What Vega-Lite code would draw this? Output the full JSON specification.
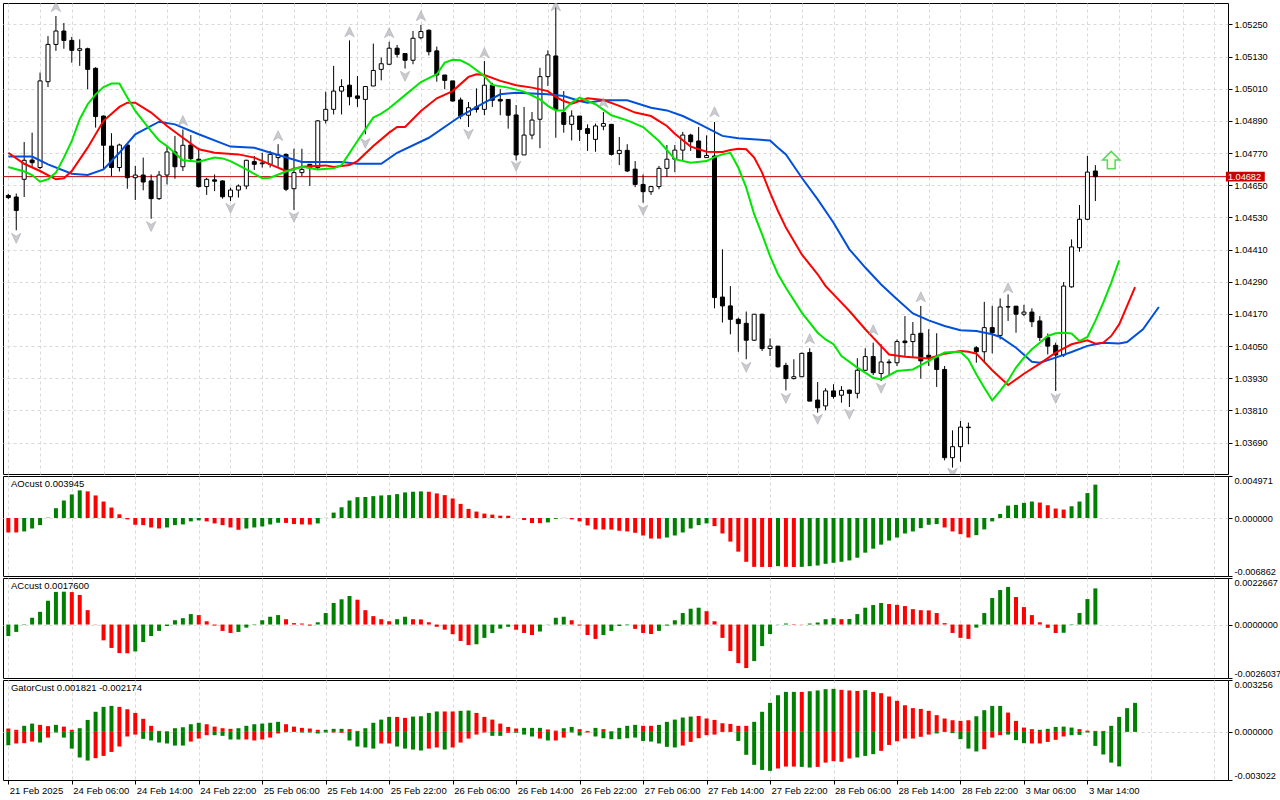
{
  "$schema": "https://vega.github.io/schema/vega-lite/v6.json",
  "padding": {"left": 2, "top": 2, "right": 0, "bottom": 0},
  "background": "#ffffff",
  "spacing": 0,
  "resolve": {"scale": {"color": "independent"}},
  "config": {
    "view": {"stroke": "#000000", "strokeWidth": 1},
    "font": "Liberation Sans",
    "axis": {"labelFont": "Liberation Sans", "labelFontSize": 9.2, "labelColor": "#000000", "tickColor": "#000000", "gridColor": "#d9d9d9", "gridDash": [3, 3], "domain": false, "title": null, "labelOverlap": false, "labelFlush": false, "labelSeparation": 0, "labelBound": false}
  },
  "datasets": {
    "candles": [
      {"i":0,"o":1.04612,"h":1.04618,"l":1.04598,"c":1.04604},
      {"i":1,"o":1.04606,"h":1.04619,"l":1.04482,"c":1.04556},
      {"i":2,"o":1.04672,"h":1.04811,"l":1.04606,"c":1.04743},
      {"i":3,"o":1.04744,"h":1.04846,"l":1.04716,"c":1.04734},
      {"i":4,"o":1.04716,"h":1.0507,"l":1.0471,"c":1.05039},
      {"i":5,"o":1.05036,"h":1.05206,"l":1.05016,"c":1.05175},
      {"i":6,"o":1.05175,"h":1.05281,"l":1.05151,"c":1.05225},
      {"i":7,"o":1.05225,"h":1.05255,"l":1.05159,"c":1.0519},
      {"i":8,"o":1.0519,"h":1.05203,"l":1.05107,"c":1.05153},
      {"i":9,"o":1.05153,"h":1.05194,"l":1.05095,"c":1.05159},
      {"i":10,"o":1.05159,"h":1.05163,"l":1.05008,"c":1.05082},
      {"i":11,"o":1.05086,"h":1.0509,"l":1.04865,"c":1.04906},
      {"i":12,"o":1.04908,"h":1.0491,"l":1.0471,"c":1.04799},
      {"i":13,"o":1.04796,"h":1.04844,"l":1.04684,"c":1.04716},
      {"i":14,"o":1.04716,"h":1.04805,"l":1.04701,"c":1.048},
      {"i":15,"o":1.048,"h":1.04803,"l":1.04637,"c":1.04678},
      {"i":16,"o":1.04678,"h":1.04722,"l":1.04595,"c":1.04688},
      {"i":17,"o":1.04688,"h":1.04753,"l":1.04631,"c":1.04662},
      {"i":18,"o":1.04666,"h":1.0469,"l":1.04525,"c":1.046},
      {"i":19,"o":1.046,"h":1.04703,"l":1.04595,"c":1.04688},
      {"i":20,"o":1.04688,"h":1.04794,"l":1.04653,"c":1.04774},
      {"i":21,"o":1.04774,"h":1.04834,"l":1.04674,"c":1.04719},
      {"i":22,"o":1.04719,"h":1.04858,"l":1.04703,"c":1.04799},
      {"i":23,"o":1.048,"h":1.04837,"l":1.0474,"c":1.04749},
      {"i":24,"o":1.04747,"h":1.0479,"l":1.04641,"c":1.04645},
      {"i":25,"o":1.04645,"h":1.04678,"l":1.04614,"c":1.04672},
      {"i":26,"o":1.0467,"h":1.0469,"l":1.04628,"c":1.04665},
      {"i":27,"o":1.04666,"h":1.04668,"l":1.046,"c":1.04607},
      {"i":28,"o":1.04607,"h":1.04641,"l":1.04591,"c":1.04632},
      {"i":29,"o":1.04632,"h":1.04653,"l":1.04604,"c":1.04647},
      {"i":30,"o":1.04647,"h":1.04745,"l":1.04635,"c":1.04743},
      {"i":31,"o":1.04738,"h":1.04759,"l":1.04707,"c":1.04728},
      {"i":32,"o":1.0473,"h":1.04771,"l":1.04716,"c":1.04733},
      {"i":33,"o":1.04728,"h":1.04778,"l":1.04716,"c":1.04765},
      {"i":34,"o":1.04753,"h":1.04803,"l":1.04719,"c":1.04763},
      {"i":35,"o":1.04765,"h":1.04768,"l":1.04628,"c":1.04635},
      {"i":36,"o":1.04637,"h":1.04786,"l":1.04558,"c":1.04697},
      {"i":37,"o":1.04697,"h":1.04786,"l":1.04684,"c":1.04709},
      {"i":38,"o":1.04728,"h":1.04728,"l":1.04647,"c":1.04716},
      {"i":39,"o":1.04716,"h":1.04893,"l":1.0471,"c":1.0489},
      {"i":40,"o":1.04892,"h":1.04999,"l":1.0488,"c":1.04933},
      {"i":41,"o":1.04933,"h":1.05095,"l":1.04914,"c":1.05001},
      {"i":42,"o":1.05001,"h":1.05045,"l":1.04914,"c":1.05018},
      {"i":43,"o":1.05023,"h":1.0519,"l":1.04948,"c":1.0498},
      {"i":44,"o":1.04983,"h":1.05057,"l":1.04942,"c":1.04974},
      {"i":45,"o":1.0497,"h":1.0502,"l":1.0484,"c":1.05018},
      {"i":46,"o":1.0502,"h":1.05178,"l":1.0502,"c":1.05078},
      {"i":47,"o":1.05082,"h":1.05126,"l":1.05041,"c":1.05103},
      {"i":48,"o":1.05101,"h":1.05185,"l":1.05101,"c":1.05161},
      {"i":49,"o":1.05161,"h":1.05173,"l":1.05126,"c":1.05138},
      {"i":50,"o":1.05141,"h":1.05141,"l":1.05085,"c":1.05116},
      {"i":51,"o":1.05116,"h":1.05225,"l":1.05101,"c":1.05198},
      {"i":52,"o":1.052,"h":1.05248,"l":1.05194,"c":1.05223},
      {"i":53,"o":1.05228,"h":1.05231,"l":1.05134,"c":1.05148},
      {"i":54,"o":1.05151,"h":1.05167,"l":1.05036,"c":1.05061},
      {"i":55,"o":1.05061,"h":1.05061,"l":1.05008,"c":1.05041},
      {"i":56,"o":1.05039,"h":1.05039,"l":1.04962,"c":1.04964},
      {"i":57,"o":1.04968,"h":1.04977,"l":1.04896,"c":1.04908},
      {"i":58,"o":1.04911,"h":1.0496,"l":1.04867,"c":1.04939},
      {"i":59,"o":1.04942,"h":1.05011,"l":1.04921,"c":1.04933},
      {"i":60,"o":1.04933,"h":1.05113,"l":1.04911,"c":1.05023},
      {"i":61,"o":1.05023,"h":1.05032,"l":1.04942,"c":1.04967},
      {"i":62,"o":1.0497,"h":1.05008,"l":1.04911,"c":1.04964},
      {"i":63,"o":1.0497,"h":1.0497,"l":1.04861,"c":1.04911},
      {"i":64,"o":1.04912,"h":1.04949,"l":1.04743,"c":1.04763},
      {"i":65,"o":1.04763,"h":1.04942,"l":1.04763,"c":1.04837},
      {"i":66,"o":1.04837,"h":1.04923,"l":1.04821,"c":1.04893},
      {"i":67,"o":1.04896,"h":1.05088,"l":1.04788,"c":1.05055},
      {"i":68,"o":1.05055,"h":1.05153,"l":1.0502,"c":1.05136},
      {"i":69,"o":1.05132,"h":1.05315,"l":1.04827,"c":1.04933},
      {"i":70,"o":1.04921,"h":1.05001,"l":1.04846,"c":1.04877},
      {"i":71,"o":1.04877,"h":1.04929,"l":1.04817,"c":1.04908},
      {"i":72,"o":1.04908,"h":1.04908,"l":1.04815,"c":1.04858},
      {"i":73,"o":1.04861,"h":1.04877,"l":1.04778,"c":1.04843},
      {"i":74,"o":1.04821,"h":1.0488,"l":1.04775,"c":1.04871},
      {"i":75,"o":1.0487,"h":1.04923,"l":1.04855,"c":1.0488},
      {"i":76,"o":1.04877,"h":1.04877,"l":1.04761,"c":1.04765},
      {"i":77,"o":1.04768,"h":1.0483,"l":1.04725,"c":1.0478},
      {"i":78,"o":1.0478,"h":1.04803,"l":1.04699,"c":1.04703},
      {"i":79,"o":1.0471,"h":1.0474,"l":1.04643,"c":1.04653},
      {"i":80,"o":1.04653,"h":1.0469,"l":1.04585,"c":1.04626},
      {"i":81,"o":1.04626,"h":1.04647,"l":1.04614,"c":1.04645},
      {"i":82,"o":1.04645,"h":1.04722,"l":1.04635,"c":1.04713},
      {"i":83,"o":1.04713,"h":1.048,"l":1.04681,"c":1.04747},
      {"i":84,"o":1.04747,"h":1.048,"l":1.04699,"c":1.04781},
      {"i":85,"o":1.04781,"h":1.04849,"l":1.04744,"c":1.04837},
      {"i":86,"o":1.04837,"h":1.04842,"l":1.04778,"c":1.04812},
      {"i":87,"o":1.04815,"h":1.04867,"l":1.04753,"c":1.04753},
      {"i":88,"o":1.04753,"h":1.04836,"l":1.04753,"c":1.04761},
      {"i":89,"o":1.04759,"h":1.04886,"l":1.04191,"c":1.04231},
      {"i":90,"o":1.04233,"h":1.04411,"l":1.04138,"c":1.042},
      {"i":91,"o":1.042,"h":1.04274,"l":1.04094,"c":1.0415},
      {"i":92,"o":1.0415,"h":1.04156,"l":1.04029,"c":1.04134},
      {"i":93,"o":1.04135,"h":1.04179,"l":1.04001,"c":1.04072},
      {"i":94,"o":1.04072,"h":1.04169,"l":1.04069,"c":1.04169},
      {"i":95,"o":1.04169,"h":1.04171,"l":1.04032,"c":1.04041},
      {"i":96,"o":1.04041,"h":1.04079,"l":1.04013,"c":1.0405},
      {"i":97,"o":1.0405,"h":1.0405,"l":1.0397,"c":1.03973},
      {"i":98,"o":1.03978,"h":1.03988,"l":1.03885,"c":1.03929},
      {"i":99,"o":1.03929,"h":1.04001,"l":1.03926,"c":1.03936},
      {"i":100,"o":1.03936,"h":1.04026,"l":1.03936,"c":1.04023},
      {"i":101,"o":1.04026,"h":1.04042,"l":1.03845,"c":1.03845},
      {"i":102,"o":1.03849,"h":1.03916,"l":1.03802,"c":1.0382},
      {"i":103,"o":1.03827,"h":1.03893,"l":1.03811,"c":1.03883},
      {"i":104,"o":1.03883,"h":1.03908,"l":1.03854,"c":1.03862},
      {"i":105,"o":1.03867,"h":1.03901,"l":1.03839,"c":1.03885},
      {"i":106,"o":1.03886,"h":1.03888,"l":1.03823,"c":1.03874},
      {"i":107,"o":1.03874,"h":1.04005,"l":1.03855,"c":1.0396},
      {"i":108,"o":1.0396,"h":1.04042,"l":1.03958,"c":1.04011},
      {"i":109,"o":1.04011,"h":1.04063,"l":1.03942,"c":1.03951},
      {"i":110,"o":1.03948,"h":1.04057,"l":1.0392,"c":1.03991},
      {"i":111,"o":1.03991,"h":1.04001,"l":1.03939,"c":1.03988},
      {"i":112,"o":1.03988,"h":1.04075,"l":1.03976,"c":1.04067},
      {"i":113,"o":1.04069,"h":1.04162,"l":1.04013,"c":1.04063},
      {"i":114,"o":1.04067,"h":1.0414,"l":1.0401,"c":1.04094},
      {"i":115,"o":1.04098,"h":1.042,"l":1.03929,"c":1.03995},
      {"i":116,"o":1.04016,"h":1.04113,"l":1.03976,"c":1.04007},
      {"i":117,"o":1.04007,"h":1.04098,"l":1.03898,"c":1.03963},
      {"i":118,"o":1.03963,"h":1.03976,"l":1.03624,"c":1.03634},
      {"i":119,"o":1.03634,"h":1.03736,"l":1.03597,"c":1.03675},
      {"i":120,"o":1.03675,"h":1.03771,"l":1.03619,"c":1.03748},
      {"i":121,"o":1.03748,"h":1.03765,"l":1.03684,"c":1.03746},
      {"i":122,"o":1.04044,"h":1.0405,"l":1.03988,"c":1.04029},
      {"i":123,"o":1.04029,"h":1.04215,"l":1.03991,"c":1.04119},
      {"i":124,"o":1.04119,"h":1.042,"l":1.04023,"c":1.041},
      {"i":125,"o":1.0409,"h":1.04228,"l":1.04075,"c":1.04196},
      {"i":126,"o":1.04196,"h":1.04243,"l":1.04144,"c":1.04197},
      {"i":127,"o":1.04199,"h":1.04199,"l":1.041,"c":1.04169},
      {"i":128,"o":1.04169,"h":1.04204,"l":1.04162,"c":1.04177},
      {"i":129,"o":1.04177,"h":1.04191,"l":1.04121,"c":1.04141},
      {"i":130,"o":1.04144,"h":1.04162,"l":1.04069,"c":1.04082},
      {"i":131,"o":1.04082,"h":1.04097,"l":1.04019,"c":1.0405},
      {"i":132,"o":1.04053,"h":1.04063,"l":1.03883,"c":1.04017},
      {"i":133,"o":1.04017,"h":1.04289,"l":1.0401,"c":1.04274},
      {"i":134,"o":1.04271,"h":1.04448,"l":1.04268,"c":1.0442},
      {"i":135,"o":1.04417,"h":1.04576,"l":1.04402,"c":1.04523},
      {"i":136,"o":1.04523,"h":1.04759,"l":1.0452,"c":1.04699},
      {"i":137,"o":1.04703,"h":1.04725,"l":1.04591,"c":1.04682}
    ],
    "alligator": [
      {"s":"jaw","i":0,"p":1.04757},{"s":"jaw","i":3,"p":1.04757},{"s":"jaw","i":5,"p":1.04728},{"s":"jaw","i":8,"p":1.04693},{"s":"jaw","i":10,"p":1.04688},{"s":"jaw","i":12,"p":1.04709},{"s":"jaw","i":14,"p":1.04771},{"s":"jaw","i":16,"p":1.0484},{"s":"jaw","i":19,"p":1.04887},{"s":"jaw","i":21,"p":1.04877},{"s":"jaw","i":24,"p":1.0484},{"s":"jaw","i":28,"p":1.04794},{"s":"jaw","i":31,"p":1.0479},{"s":"jaw","i":34,"p":1.04763},{"s":"jaw","i":37,"p":1.04737},{"s":"jaw","i":42,"p":1.04737},{"s":"jaw","i":44,"p":1.0473},{"s":"jaw","i":47,"p":1.0473},{"s":"jaw","i":49,"p":1.04771},{"s":"jaw","i":53,"p":1.04827},{"s":"jaw","i":57,"p":1.04908},{"s":"jaw","i":60,"p":1.04958},{"s":"jaw","i":62,"p":1.04989},{"s":"jaw","i":64,"p":1.04995},{"s":"jaw","i":68,"p":1.04989},{"s":"jaw","i":70,"p":1.04983},{"s":"jaw","i":72,"p":1.04964},{"s":"jaw","i":73,"p":1.04958},{"s":"jaw","i":75,"p":1.04967},{"s":"jaw","i":78,"p":1.04967},{"s":"jaw","i":81,"p":1.04939},{"s":"jaw","i":83,"p":1.04929},{"s":"jaw","i":85,"p":1.04908},{"s":"jaw","i":87,"p":1.0488},{"s":"jaw","i":90,"p":1.04834},{"s":"jaw","i":92,"p":1.04825},{"s":"jaw","i":96,"p":1.04817},{"s":"jaw","i":97,"p":1.0479},{"s":"jaw","i":98,"p":1.04765},{"s":"jaw","i":100,"p":1.04678},{"s":"jaw","i":102,"p":1.04597},{"s":"jaw","i":104,"p":1.0451},{"s":"jaw","i":106,"p":1.04411},{"s":"jaw","i":108,"p":1.04343},{"s":"jaw","i":110,"p":1.0428},{"s":"jaw","i":112,"p":1.04225},{"s":"jaw","i":114,"p":1.04172},{"s":"jaw","i":116,"p":1.04146},{"s":"jaw","i":118,"p":1.04125},{"s":"jaw","i":120,"p":1.04109},{"s":"jaw","i":122,"p":1.04106},{"s":"jaw","i":124,"p":1.04094},{"s":"jaw","i":125,"p":1.04084},{"s":"jaw","i":127,"p":1.04044},{"s":"jaw","i":129,"p":1.03992},{"s":"jaw","i":130,"p":1.03988},{"s":"jaw","i":132,"p":1.04007},{"s":"jaw","i":134,"p":1.04028},{"s":"jaw","i":136,"p":1.04051},{"s":"jaw","i":138,"p":1.04063},{"s":"jaw","i":140,"p":1.0406},{"s":"jaw","i":141,"p":1.04065},{"s":"jaw","i":143,"p":1.04113},{"s":"jaw","i":145,"p":1.04196},
      {"s":"teeth","i":0,"p":1.04771},{"s":"teeth","i":2,"p":1.0473},{"s":"teeth","i":4,"p":1.04703},{"s":"teeth","i":6,"p":1.04672},{"s":"teeth","i":7,"p":1.04676},{"s":"teeth","i":8,"p":1.04703},{"s":"teeth","i":10,"p":1.0479},{"s":"teeth","i":12,"p":1.0489},{"s":"teeth","i":14,"p":1.04942},{"s":"teeth","i":15,"p":1.04958},{"s":"teeth","i":16,"p":1.04958},{"s":"teeth","i":18,"p":1.04921},{"s":"teeth","i":20,"p":1.04871},{"s":"teeth","i":22,"p":1.04827},{"s":"teeth","i":24,"p":1.04784},{"s":"teeth","i":26,"p":1.04771},{"s":"teeth","i":29,"p":1.04765},{"s":"teeth","i":31,"p":1.04753},{"s":"teeth","i":33,"p":1.04728},{"s":"teeth","i":35,"p":1.04703},{"s":"teeth","i":37,"p":1.04719},{"s":"teeth","i":40,"p":1.04724},{"s":"teeth","i":41,"p":1.04718},{"s":"teeth","i":43,"p":1.04725},{"s":"teeth","i":44,"p":1.0474},{"s":"teeth","i":46,"p":1.04796},{"s":"teeth","i":48,"p":1.04846},{"s":"teeth","i":49,"p":1.04867},{"s":"teeth","i":50,"p":1.04867},{"s":"teeth","i":52,"p":1.04927},{"s":"teeth","i":54,"p":1.04974},{"s":"teeth","i":56,"p":1.05001},{"s":"teeth","i":58,"p":1.05054},{"s":"teeth","i":59,"p":1.05064},{"s":"teeth","i":60,"p":1.05061},{"s":"teeth","i":62,"p":1.05039},{"s":"teeth","i":64,"p":1.05023},{"s":"teeth","i":66,"p":1.05014},{"s":"teeth","i":68,"p":1.05001},{"s":"teeth","i":69,"p":1.04979},{"s":"teeth","i":70,"p":1.04964},{"s":"teeth","i":71,"p":1.04954},{"s":"teeth","i":72,"p":1.04964},{"s":"teeth","i":73,"p":1.04974},{"s":"teeth","i":75,"p":1.04968},{"s":"teeth","i":77,"p":1.04946},{"s":"teeth","i":79,"p":1.04921},{"s":"teeth","i":81,"p":1.04908},{"s":"teeth","i":83,"p":1.04871},{"s":"teeth","i":84,"p":1.04842},{"s":"teeth","i":86,"p":1.04794},{"s":"teeth","i":88,"p":1.04775},{"s":"teeth","i":90,"p":1.04774},{"s":"teeth","i":91,"p":1.04781},{"s":"teeth","i":92,"p":1.04786},{"s":"teeth","i":93,"p":1.04784},{"s":"teeth","i":94,"p":1.04753},{"s":"teeth","i":95,"p":1.04697},{"s":"teeth","i":96,"p":1.04622},{"s":"teeth","i":97,"p":1.04554},{"s":"teeth","i":98,"p":1.04492},{"s":"teeth","i":99,"p":1.04442},{"s":"teeth","i":100,"p":1.04392},{"s":"teeth","i":101,"p":1.04355},{"s":"teeth","i":102,"p":1.04318},{"s":"teeth","i":103,"p":1.04274},{"s":"teeth","i":104,"p":1.04243},{"s":"teeth","i":106,"p":1.04181},{"s":"teeth","i":108,"p":1.04113},{"s":"teeth","i":110,"p":1.0405},{"s":"teeth","i":111,"p":1.04019},{"s":"teeth","i":113,"p":1.0401},{"s":"teeth","i":116,"p":1.04004},{"s":"teeth","i":118,"p":1.04022},{"s":"teeth","i":120,"p":1.04032},{"s":"teeth","i":121,"p":1.04029},{"s":"teeth","i":122,"p":1.04022},{"s":"teeth","i":124,"p":1.0396},{"s":"teeth","i":126,"p":1.03905},{"s":"teeth","i":128,"p":1.03947},{"s":"teeth","i":130,"p":1.03985},{"s":"teeth","i":132,"p":1.04026},{"s":"teeth","i":134,"p":1.04057},{"s":"teeth","i":136,"p":1.04072},{"s":"teeth","i":137,"p":1.04059},{"s":"teeth","i":138,"p":1.04063},{"s":"teeth","i":139,"p":1.04088},{"s":"teeth","i":140,"p":1.04131},{"s":"teeth","i":141,"p":1.042},{"s":"teeth","i":142,"p":1.0427},
      {"s":"lips","i":0,"p":1.04718},{"s":"lips","i":2,"p":1.04701},{"s":"lips","i":3,"p":1.04688},{"s":"lips","i":4,"p":1.04663},{"s":"lips","i":5,"p":1.04672},{"s":"lips","i":6,"p":1.04697},{"s":"lips","i":7,"p":1.04753},{"s":"lips","i":8,"p":1.04815},{"s":"lips","i":9,"p":1.04896},{"s":"lips","i":10,"p":1.04952},{"s":"lips","i":11,"p":1.04989},{"s":"lips","i":12,"p":1.05016},{"s":"lips","i":13,"p":1.05029},{"s":"lips","i":14,"p":1.05029},{"s":"lips","i":15,"p":1.04977},{"s":"lips","i":16,"p":1.04927},{"s":"lips","i":18,"p":1.04852},{"s":"lips","i":19,"p":1.04817},{"s":"lips","i":20,"p":1.04796},{"s":"lips","i":22,"p":1.04743},{"s":"lips","i":24,"p":1.04738},{"s":"lips","i":26,"p":1.04753},{"s":"lips","i":27,"p":1.0475},{"s":"lips","i":28,"p":1.0474},{"s":"lips","i":30,"p":1.04709},{"s":"lips","i":32,"p":1.04676},{"s":"lips","i":33,"p":1.04678},{"s":"lips","i":35,"p":1.04701},{"s":"lips","i":37,"p":1.04719},{"s":"lips","i":39,"p":1.04709},{"s":"lips","i":41,"p":1.04713},{"s":"lips","i":42,"p":1.04725},{"s":"lips","i":44,"p":1.04815},{"s":"lips","i":46,"p":1.04902},{"s":"lips","i":47,"p":1.04917},{"s":"lips","i":48,"p":1.04937},{"s":"lips","i":50,"p":1.04986},{"s":"lips","i":52,"p":1.05035},{"s":"lips","i":54,"p":1.05064},{"s":"lips","i":55,"p":1.05107},{"s":"lips","i":56,"p":1.05118},{"s":"lips","i":57,"p":1.05116},{"s":"lips","i":58,"p":1.05101},{"s":"lips","i":60,"p":1.05057},{"s":"lips","i":61,"p":1.05024},{"s":"lips","i":63,"p":1.05014},{"s":"lips","i":65,"p":1.04999},{"s":"lips","i":67,"p":1.0497},{"s":"lips","i":68,"p":1.04946},{"s":"lips","i":69,"p":1.04929},{"s":"lips","i":70,"p":1.04929},{"s":"lips","i":71,"p":1.04958},{"s":"lips","i":72,"p":1.04977},{"s":"lips","i":74,"p":1.04952},{"s":"lips","i":76,"p":1.04911},{"s":"lips","i":78,"p":1.04892},{"s":"lips","i":80,"p":1.04867},{"s":"lips","i":82,"p":1.04815},{"s":"lips","i":84,"p":1.04747},{"s":"lips","i":86,"p":1.04734},{"s":"lips","i":88,"p":1.0474},{"s":"lips","i":89,"p":1.04755},{"s":"lips","i":90,"p":1.04765},{"s":"lips","i":91,"p":1.04771},{"s":"lips","i":92,"p":1.04716},{"s":"lips","i":93,"p":1.04641},{"s":"lips","i":94,"p":1.04542},{"s":"lips","i":95,"p":1.04467},{"s":"lips","i":96,"p":1.04386},{"s":"lips","i":97,"p":1.04318},{"s":"lips","i":98,"p":1.04268},{"s":"lips","i":100,"p":1.04175},{"s":"lips","i":102,"p":1.041},{"s":"lips","i":103,"p":1.04075},{"s":"lips","i":104,"p":1.04057},{"s":"lips","i":105,"p":1.04013},{"s":"lips","i":107,"p":1.0397},{"s":"lips","i":109,"p":1.03932},{"s":"lips","i":110,"p":1.03926},{"s":"lips","i":112,"p":1.03957},{"s":"lips","i":114,"p":1.03963},{"s":"lips","i":116,"p":1.03995},{"s":"lips","i":118,"p":1.04026},{"s":"lips","i":120,"p":1.04029},{"s":"lips","i":121,"p":1.04001},{"s":"lips","i":122,"p":1.03945},{"s":"lips","i":123,"p":1.03895},{"s":"lips","i":124,"p":1.03848},{"s":"lips","i":125,"p":1.03883},{"s":"lips","i":126,"p":1.03922},{"s":"lips","i":127,"p":1.0397},{"s":"lips","i":128,"p":1.04007},{"s":"lips","i":129,"p":1.04038},{"s":"lips","i":130,"p":1.04063},{"s":"lips","i":131,"p":1.04088},{"s":"lips","i":132,"p":1.04098},{"s":"lips","i":133,"p":1.041},{"s":"lips","i":134,"p":1.04097},{"s":"lips","i":135,"p":1.04069},{"s":"lips","i":136,"p":1.04084},{"s":"lips","i":137,"p":1.04144},{"s":"lips","i":138,"p":1.04212},{"s":"lips","i":139,"p":1.04287},{"s":"lips","i":140,"p":1.0437}
    ],
    "fractals": [
      {"i":6,"p":1.05315,"t":"up"},{"i":22,"p":1.0489,"t":"up"},{"i":34,"p":1.04834,"t":"up"},{"i":43,"p":1.05221,"t":"up"},{"i":48,"p":1.05218,"t":"up"},{"i":52,"p":1.05281,"t":"up"},{"i":60,"p":1.05143,"t":"up"},{"i":69,"p":1.05318,"t":"up"},{"i":75,"p":1.04957,"t":"up"},{"i":89,"p":1.04923,"t":"up"},{"i":101,"p":1.04077,"t":"up"},{"i":109,"p":1.0411,"t":"up"},{"i":115,"p":1.04233,"t":"up"},{"i":126,"p":1.04267,"t":"up"},
      {"i":1,"p":1.04453,"t":"down"},{"i":18,"p":1.04497,"t":"down"},{"i":28,"p":1.04565,"t":"down"},{"i":36,"p":1.04532,"t":"down"},{"i":45,"p":1.04807,"t":"down"},{"i":50,"p":1.05057,"t":"down"},{"i":58,"p":1.04841,"t":"down"},{"i":64,"p":1.04722,"t":"down"},{"i":80,"p":1.04558,"t":"down"},{"i":93,"p":1.03972,"t":"down"},{"i":98,"p":1.03856,"t":"down"},{"i":102,"p":1.03778,"t":"down"},{"i":106,"p":1.03797,"t":"down"},{"i":110,"p":1.03894,"t":"down"},{"i":119,"p":1.03577,"t":"down"},{"i":132,"p":1.03856,"t":"down"}
    ],
    "ao": [
      {"i":0,"v":-0.00171,"d":"d"},{"i":1,"v":-0.00171,"d":"d"},{"i":2,"v":-0.00159,"d":"u"},{"i":3,"v":-0.00124,"d":"u"},{"i":4,"v":-0.00084,"d":"u"},{"i":5,"v":0.00004,"d":"u"},{"i":6,"v":0.00116,"d":"u"},{"i":7,"v":0.00207,"d":"u"},{"i":8,"v":0.00279,"d":"u"},{"i":9,"v":0.00327,"d":"u"},
      {"i":10,"v":0.00315,"d":"d"},{"i":11,"v":0.00267,"d":"d"},{"i":12,"v":0.00195,"d":"d"},{"i":13,"v":0.00124,"d":"d"},{"i":14,"v":0.00044,"d":"d"},{"i":15,"v":-0.00016,"d":"d"},{"i":16,"v":-0.0008,"d":"d"},{"i":17,"v":-0.00084,"d":"d"},{"i":18,"v":-0.00112,"d":"d"},{"i":19,"v":-0.00124,"d":"d"},
      {"i":20,"v":-0.00112,"d":"u"},{"i":21,"v":-0.00084,"d":"u"},{"i":22,"v":-0.00076,"d":"u"},{"i":23,"v":-0.0004,"d":"u"},{"i":24,"v":-0.00028,"d":"u"},{"i":25,"v":-0.0004,"d":"d"},{"i":26,"v":-0.00064,"d":"d"},{"i":27,"v":-0.00084,"d":"d"},{"i":28,"v":-0.00112,"d":"d"},{"i":29,"v":-0.00139,"d":"d"},
      {"i":30,"v":-0.00124,"d":"u"},{"i":31,"v":-0.00112,"d":"u"},{"i":32,"v":-0.001,"d":"u"},{"i":33,"v":-0.00076,"d":"u"},{"i":34,"v":-0.00056,"d":"u"},{"i":35,"v":-0.00058,"d":"d"},{"i":36,"v":-0.00072,"d":"d"},{"i":37,"v":-0.00076,"d":"d"},{"i":38,"v":-0.00078,"d":"d"},{"i":39,"v":-0.00064,"d":"u"},
      {"i":40,"v":0.00002,"d":"u"},{"i":41,"v":0.00064,"d":"u"},{"i":42,"v":0.00127,"d":"u"},{"i":43,"v":0.00207,"d":"u"},{"i":44,"v":0.00247,"d":"u"},{"i":45,"v":0.00249,"d":"u"},{"i":46,"v":0.00259,"d":"u"},{"i":47,"v":0.00267,"d":"u"},{"i":48,"v":0.00271,"d":"u"},{"i":49,"v":0.00283,"d":"u"},
      {"i":50,"v":0.00303,"d":"u"},{"i":51,"v":0.00311,"d":"u"},{"i":52,"v":0.00315,"d":"u"},{"i":53,"v":0.00311,"d":"d"},{"i":54,"v":0.00291,"d":"d"},{"i":55,"v":0.00271,"d":"d"},{"i":56,"v":0.00231,"d":"d"},{"i":57,"v":0.00167,"d":"d"},{"i":58,"v":0.00108,"d":"d"},{"i":59,"v":0.00076,"d":"d"},
      {"i":60,"v":0.00052,"d":"d"},{"i":61,"v":0.0004,"d":"d"},{"i":62,"v":0.00028,"d":"d"},{"i":63,"v":0.00027,"d":"d"},{"i":64,"v":0.00001,"d":"d"},{"i":65,"v":-0.00024,"d":"d"},{"i":66,"v":-0.0006,"d":"d"},{"i":67,"v":-0.00061,"d":"d"},{"i":68,"v":-0.00052,"d":"u"},{"i":69,"v":-0.0001,"d":"u"},
      {"i":70,"v":0.00002,"d":"u"},{"i":71,"v":-0.00016,"d":"d"},{"i":72,"v":-0.0004,"d":"d"},{"i":73,"v":-0.00088,"d":"d"},{"i":74,"v":-0.00135,"d":"d"},{"i":75,"v":-0.00136,"d":"d"},{"i":76,"v":-0.00137,"d":"d"},{"i":77,"v":-0.00151,"d":"d"},{"i":78,"v":-0.00159,"d":"d"},{"i":79,"v":-0.00175,"d":"d"},
      {"i":80,"v":-0.00207,"d":"d"},{"i":81,"v":-0.00243,"d":"d"},{"i":82,"v":-0.00244,"d":"d"},{"i":83,"v":-0.00231,"d":"u"},{"i":84,"v":-0.00207,"d":"u"},{"i":85,"v":-0.00171,"d":"u"},{"i":86,"v":-0.00124,"d":"u"},{"i":87,"v":-0.00084,"d":"u"},{"i":88,"v":-0.00064,"d":"u"},{"i":89,"v":-0.00096,"d":"d"},
      {"i":90,"v":-0.00183,"d":"d"},{"i":91,"v":-0.00279,"d":"d"},{"i":92,"v":-0.00398,"d":"d"},{"i":93,"v":-0.00518,"d":"d"},{"i":94,"v":-0.00578,"d":"d"},{"i":95,"v":-0.00579,"d":"d"},{"i":96,"v":-0.0058,"d":"d"},{"i":97,"v":-0.0057,"d":"u"},{"i":98,"v":-0.00578,"d":"d"},{"i":99,"v":-0.0058,"d":"d"},
      {"i":100,"v":-0.00578,"d":"u"},{"i":101,"v":-0.0057,"d":"u"},{"i":102,"v":-0.00562,"d":"u"},{"i":103,"v":-0.00542,"d":"u"},{"i":104,"v":-0.0053,"d":"u"},{"i":105,"v":-0.00518,"d":"u"},{"i":106,"v":-0.00502,"d":"u"},{"i":107,"v":-0.0047,"d":"u"},{"i":108,"v":-0.0041,"d":"u"},{"i":109,"v":-0.00363,"d":"u"},
      {"i":110,"v":-0.00315,"d":"u"},{"i":111,"v":-0.00267,"d":"u"},{"i":112,"v":-0.00231,"d":"u"},{"i":113,"v":-0.00183,"d":"u"},{"i":114,"v":-0.00159,"d":"u"},{"i":115,"v":-0.0012,"d":"u"},{"i":116,"v":-0.0008,"d":"u"},{"i":117,"v":-0.00072,"d":"u"},{"i":118,"v":-0.00112,"d":"d"},{"i":119,"v":-0.00159,"d":"d"},
      {"i":120,"v":-0.00191,"d":"d"},{"i":121,"v":-0.00231,"d":"d"},{"i":122,"v":-0.00203,"d":"u"},{"i":123,"v":-0.00135,"d":"u"},{"i":124,"v":-0.0004,"d":"u"},{"i":125,"v":0.00048,"d":"u"},{"i":126,"v":0.00147,"d":"u"},{"i":127,"v":0.00155,"d":"u"},{"i":128,"v":0.00179,"d":"u"},{"i":129,"v":0.00195,"d":"u"},
      {"i":130,"v":0.00183,"d":"d"},{"i":131,"v":0.00151,"d":"d"},{"i":132,"v":0.00112,"d":"d"},{"i":133,"v":0.001,"d":"d"},{"i":134,"v":0.00139,"d":"u"},{"i":135,"v":0.00195,"d":"u"},{"i":136,"v":0.00295,"d":"u"},{"i":137,"v":0.00395,"d":"u"}
    ],
    "ac": [
      {"i":0,"v":-0.00056,"d":"u"},{"i":1,"v":-0.00036,"d":"u"},{"i":2,"v":0.00002,"d":"u"},{"i":3,"v":0.00033,"d":"u"},{"i":4,"v":0.00062,"d":"u"},{"i":5,"v":0.00116,"d":"u"},{"i":6,"v":0.00159,"d":"u"},{"i":7,"v":0.0016,"d":"u"},{"i":8,"v":0.00158,"d":"d"},{"i":9,"v":0.00144,"d":"d"},
      {"i":10,"v":0.0007,"d":"d"},{"i":11,"v":0.00001,"d":"d"},{"i":12,"v":-0.00077,"d":"d"},{"i":13,"v":-0.00114,"d":"d"},{"i":14,"v":-0.00139,"d":"d"},{"i":15,"v":-0.0014,"d":"d"},{"i":16,"v":-0.00131,"d":"u"},{"i":17,"v":-0.00085,"d":"u"},{"i":18,"v":-0.00056,"d":"u"},{"i":19,"v":-0.00031,"d":"u"},
      {"i":20,"v":-0.00007,"d":"u"},{"i":21,"v":0.00021,"d":"u"},{"i":22,"v":0.00031,"d":"u"},{"i":23,"v":0.00051,"d":"u"},{"i":24,"v":0.00046,"d":"d"},{"i":25,"v":0.00016,"d":"d"},{"i":26,"v":-0.00005,"d":"d"},{"i":27,"v":-0.00031,"d":"d"},{"i":28,"v":-0.00041,"d":"d"},{"i":29,"v":-0.00036,"d":"u"},
      {"i":30,"v":-0.00015,"d":"u"},{"i":31,"v":0.00002,"d":"u"},{"i":32,"v":0.00021,"d":"u"},{"i":33,"v":0.00038,"d":"u"},{"i":34,"v":0.00046,"d":"u"},{"i":35,"v":0.00026,"d":"d"},{"i":36,"v":0.00007,"d":"d"},{"i":37,"v":0.00005,"d":"d"},{"i":38,"v":-0.00005,"d":"d"},{"i":39,"v":0.00011,"d":"u"},
      {"i":40,"v":0.00056,"d":"u"},{"i":41,"v":0.00105,"d":"u"},{"i":42,"v":0.00123,"d":"u"},{"i":43,"v":0.00139,"d":"u"},{"i":44,"v":0.00121,"d":"d"},{"i":45,"v":0.0007,"d":"d"},{"i":46,"v":0.00041,"d":"d"},{"i":47,"v":0.00026,"d":"d"},{"i":48,"v":0.00016,"d":"d"},{"i":49,"v":0.00026,"d":"u"},
      {"i":50,"v":0.00038,"d":"u"},{"i":51,"v":0.00026,"d":"d"},{"i":52,"v":0.00025,"d":"d"},{"i":53,"v":0.00011,"d":"d"},{"i":54,"v":-0.00011,"d":"d"},{"i":55,"v":-0.00025,"d":"d"},{"i":56,"v":-0.00047,"d":"d"},{"i":57,"v":-0.0008,"d":"d"},{"i":58,"v":-0.001,"d":"d"},{"i":59,"v":-0.00096,"d":"u"},
      {"i":60,"v":-0.00065,"d":"u"},{"i":61,"v":-0.00041,"d":"u"},{"i":62,"v":-0.0002,"d":"u"},{"i":63,"v":-0.00011,"d":"u"},{"i":64,"v":-0.00025,"d":"d"},{"i":65,"v":-0.00041,"d":"d"},{"i":66,"v":-0.00051,"d":"d"},{"i":67,"v":-0.00034,"d":"u"},{"i":68,"v":-0.00001,"d":"u"},{"i":69,"v":0.00033,"d":"u"},
      {"i":70,"v":0.00038,"d":"u"},{"i":71,"v":0.00021,"d":"d"},{"i":72,"v":-0.00005,"d":"d"},{"i":73,"v":-0.00051,"d":"d"},{"i":74,"v":-0.0007,"d":"d"},{"i":75,"v":-0.00051,"d":"u"},{"i":76,"v":-0.00031,"d":"u"},{"i":77,"v":-0.00007,"d":"u"},{"i":78,"v":-0.00003,"d":"u"},{"i":79,"v":-0.00021,"d":"d"},
      {"i":80,"v":-0.00041,"d":"d"},{"i":81,"v":-0.00046,"d":"d"},{"i":82,"v":-0.00031,"d":"u"},{"i":83,"v":-0.00005,"d":"u"},{"i":84,"v":0.00021,"d":"u"},{"i":85,"v":0.00056,"d":"u"},{"i":86,"v":0.00077,"d":"u"},{"i":87,"v":0.00082,"d":"u"},{"i":88,"v":0.00065,"d":"d"},{"i":89,"v":0.00016,"d":"d"},
      {"i":90,"v":-0.00065,"d":"d"},{"i":91,"v":-0.00129,"d":"d"},{"i":92,"v":-0.00188,"d":"d"},{"i":93,"v":-0.00212,"d":"d"},{"i":94,"v":-0.00178,"d":"u"},{"i":95,"v":-0.00105,"d":"u"},{"i":96,"v":-0.00046,"d":"u"},{"i":97,"v":0.00001,"d":"u"},{"i":98,"v":0.00005,"d":"u"},{"i":99,"v":0.00002,"d":"d"},
      {"i":100,"v":0.00001,"d":"d"},{"i":101,"v":0.00005,"d":"u"},{"i":102,"v":0.0001,"d":"u"},{"i":103,"v":0.00026,"d":"u"},{"i":104,"v":0.00031,"d":"u"},{"i":105,"v":0.00026,"d":"d"},{"i":106,"v":0.00027,"d":"u"},{"i":107,"v":0.00051,"d":"u"},{"i":108,"v":0.00082,"d":"u"},{"i":109,"v":0.00095,"d":"u"},
      {"i":110,"v":0.00105,"d":"u"},{"i":111,"v":0.001,"d":"d"},{"i":112,"v":0.00096,"d":"d"},{"i":113,"v":0.0009,"d":"d"},{"i":114,"v":0.00075,"d":"d"},{"i":115,"v":0.0007,"d":"d"},{"i":116,"v":0.00069,"d":"d"},{"i":117,"v":0.00056,"d":"d"},{"i":118,"v":0.00007,"d":"d"},{"i":119,"v":-0.00041,"d":"d"},
      {"i":120,"v":-0.00065,"d":"d"},{"i":121,"v":-0.0007,"d":"d"},{"i":122,"v":-0.00015,"d":"u"},{"i":123,"v":0.00056,"d":"u"},{"i":124,"v":0.00129,"d":"u"},{"i":125,"v":0.00168,"d":"u"},{"i":126,"v":0.00183,"d":"u"},{"i":127,"v":0.00134,"d":"d"},{"i":128,"v":0.00085,"d":"d"},{"i":129,"v":0.00046,"d":"d"},
      {"i":130,"v":0.00011,"d":"d"},{"i":131,"v":-0.00016,"d":"d"},{"i":132,"v":-0.00041,"d":"d"},{"i":133,"v":-0.0004,"d":"u"},{"i":134,"v":0.00002,"d":"u"},{"i":135,"v":0.00056,"d":"u"},{"i":136,"v":0.00124,"d":"u"},{"i":137,"v":0.00176,"d":"u"}
    ],
    "gator": [
      {"i":0,"up":0.00021,"uc":"d","dn":-0.00084,"dc":"u"},{"i":1,"up":0.00013,"uc":"d","dn":-0.00073,"dc":"d"},{"i":2,"up":0.00038,"uc":"u","dn":-0.00071,"dc":"d"},{"i":3,"up":0.00052,"uc":"u","dn":-0.00061,"dc":"d"},{"i":4,"up":0.00044,"uc":"d","dn":-0.00067,"dc":"u"},{"i":5,"up":0.00036,"uc":"d","dn":-0.00036,"dc":"d"},{"i":6,"up":0.00044,"uc":"u","dn":-0.00004,"dc":"u"},{"i":7,"up":0.00033,"uc":"d","dn":-0.00036,"dc":"u"},{"i":8,"up":0.00013,"uc":"d","dn":-0.00105,"dc":"u"},{"i":9,"up":0.00023,"uc":"u","dn":-0.00161,"dc":"u"},
      {"i":10,"up":0.00075,"uc":"u","dn":-0.0018,"dc":"u"},{"i":11,"up":0.00126,"uc":"u","dn":-0.00165,"dc":"d"},{"i":12,"up":0.00157,"uc":"u","dn":-0.00151,"dc":"d"},{"i":13,"up":0.00163,"uc":"u","dn":-0.00126,"dc":"d"},{"i":14,"up":0.00157,"uc":"d","dn":-0.00092,"dc":"d"},{"i":15,"up":0.00142,"uc":"d","dn":-0.00029,"dc":"d"},{"i":16,"up":0.00119,"uc":"d","dn":-0.00017,"dc":"d"},{"i":17,"up":0.00082,"uc":"d","dn":-0.00044,"dc":"u"},{"i":18,"up":0.00038,"uc":"d","dn":-0.00054,"dc":"u"},{"i":19,"up":0.00006,"uc":"d","dn":-0.00067,"dc":"u"},
      {"i":20,"up":0.00004,"uc":"u","dn":-0.00073,"dc":"u"},{"i":21,"up":0.00023,"uc":"u","dn":-0.00086,"dc":"u"},{"i":22,"up":0.00029,"uc":"u","dn":-0.00086,"dc":"u"},{"i":23,"up":0.00048,"uc":"u","dn":-0.00061,"dc":"d"},{"i":24,"up":0.00057,"uc":"u","dn":-0.00042,"dc":"d"},{"i":25,"up":0.00048,"uc":"d","dn":-0.00021,"dc":"d"},{"i":26,"up":0.00033,"uc":"d","dn":-0.00021,"dc":"u"},{"i":27,"up":0.00023,"uc":"d","dn":-0.00025,"dc":"u"},{"i":28,"up":0.00019,"uc":"d","dn":-0.00048,"dc":"u"},{"i":29,"up":0.00023,"uc":"u","dn":-0.00048,"dc":"u"},
      {"i":30,"up":0.00038,"uc":"u","dn":-0.00048,"dc":"d"},{"i":31,"up":0.00048,"uc":"u","dn":-0.00054,"dc":"d"},{"i":32,"up":0.00052,"uc":"u","dn":-0.00048,"dc":"d"},{"i":33,"up":0.00057,"uc":"u","dn":-0.00036,"dc":"d"},{"i":34,"up":0.00063,"uc":"u","dn":-0.0001,"dc":"d"},{"i":35,"up":0.00048,"uc":"d","dn":-0.00002,"dc":"u"},{"i":36,"up":0.00033,"uc":"d","dn":-0.00001,"dc":"u"},{"i":37,"up":0.00025,"uc":"d","dn":-0.00004,"dc":"u"},{"i":38,"up":0.00021,"uc":"d","dn":-0.00004,"dc":"u"},{"i":39,"up":0.00013,"uc":"d","dn":-0.0001,"dc":"u"},
      {"i":40,"up":0.00013,"uc":"u","dn":-0.00004,"dc":"u"},{"i":41,"up":0.00019,"uc":"u","dn":-0.00004,"dc":"d"},{"i":42,"up":0.00019,"uc":"u","dn":-0.00006,"dc":"d"},{"i":43,"up":0.00017,"uc":"d","dn":-0.00054,"dc":"u"},{"i":44,"up":0.00006,"uc":"d","dn":-0.00092,"dc":"u"},{"i":45,"up":0.00023,"uc":"u","dn":-0.00098,"dc":"u"},{"i":46,"up":0.00057,"uc":"u","dn":-0.00105,"dc":"u"},{"i":47,"up":0.00077,"uc":"u","dn":-0.00073,"dc":"d"},{"i":48,"up":0.00094,"uc":"u","dn":-0.00073,"dc":"d"},{"i":49,"up":0.00094,"uc":"d","dn":-0.00092,"dc":"u"},
      {"i":50,"up":0.00088,"uc":"d","dn":-0.00105,"dc":"u"},{"i":51,"up":0.00096,"uc":"u","dn":-0.00111,"dc":"u"},{"i":52,"up":0.00098,"uc":"u","dn":-0.00117,"dc":"u"},{"i":53,"up":0.00119,"uc":"u","dn":-0.00105,"dc":"d"},{"i":54,"up":0.00128,"uc":"u","dn":-0.00098,"dc":"d"},{"i":55,"up":0.00128,"uc":"d","dn":-0.00111,"dc":"u"},{"i":56,"up":0.00128,"uc":"d","dn":-0.00098,"dc":"d"},{"i":57,"up":0.00132,"uc":"u","dn":-0.00067,"dc":"d"},{"i":58,"up":0.00134,"uc":"u","dn":-0.00042,"dc":"d"},{"i":59,"up":0.00119,"uc":"d","dn":-0.00017,"dc":"d"},
      {"i":60,"up":0.00094,"uc":"d","dn":-0.00004,"dc":"d"},{"i":61,"up":0.00077,"uc":"d","dn":-0.00025,"dc":"u"},{"i":62,"up":0.00052,"uc":"d","dn":-0.00025,"dc":"u"},{"i":63,"up":0.00031,"uc":"d","dn":-0.00006,"dc":"d"},{"i":64,"up":0.00021,"uc":"d","dn":-0.00006,"dc":"u"},{"i":65,"up":0.00025,"uc":"u","dn":-0.00017,"dc":"u"},{"i":66,"up":0.00025,"uc":"u","dn":-0.00029,"dc":"u"},{"i":67,"up":0.00025,"uc":"u","dn":-0.00042,"dc":"d"},{"i":68,"up":0.00015,"uc":"d","dn":-0.00054,"dc":"u"},{"i":69,"up":0.00008,"uc":"d","dn":-0.00054,"dc":"d"},
      {"i":70,"up":0.00023,"uc":"u","dn":-0.00036,"dc":"d"},{"i":71,"up":0.00031,"uc":"u","dn":-0.00004,"dc":"u"},{"i":72,"up":0.00017,"uc":"d","dn":-0.00023,"dc":"u"},{"i":73,"up":0.00006,"uc":"d","dn":-0.00004,"dc":"d"},{"i":74,"up":0.00025,"uc":"u","dn":-0.00029,"dc":"u"},{"i":75,"up":0.00017,"uc":"d","dn":-0.0004,"dc":"u"},{"i":76,"up":0.00004,"uc":"d","dn":-0.00046,"dc":"u"},{"i":77,"up":0.00025,"uc":"u","dn":-0.00046,"dc":"u"},{"i":78,"up":0.00038,"uc":"u","dn":-0.0004,"dc":"u"},{"i":79,"up":0.00044,"uc":"u","dn":-0.00036,"dc":"u"},
      {"i":80,"up":0.00038,"uc":"d","dn":-0.00057,"dc":"u"},{"i":81,"up":0.00038,"uc":"d","dn":-0.00061,"dc":"u"},{"i":82,"up":0.00044,"uc":"u","dn":-0.00073,"dc":"u"},{"i":83,"up":0.00063,"uc":"u","dn":-0.00094,"dc":"u"},{"i":84,"up":0.00077,"uc":"u","dn":-0.00098,"dc":"u"},{"i":85,"up":0.0009,"uc":"u","dn":-0.00086,"dc":"d"},{"i":86,"up":0.00096,"uc":"u","dn":-0.00063,"dc":"d"},{"i":87,"up":0.001,"uc":"d","dn":-0.0004,"dc":"d"},{"i":88,"up":0.00084,"uc":"d","dn":-0.00021,"dc":"d"},{"i":89,"up":0.00075,"uc":"d","dn":-0.00017,"dc":"d"},
      {"i":90,"up":0.00054,"uc":"d","dn":-0.00001,"dc":"d"},{"i":91,"up":0.0005,"uc":"d","dn":-0.00001,"dc":"d"},{"i":92,"up":0.00038,"uc":"d","dn":-0.00057,"dc":"u"},{"i":93,"up":0.00038,"uc":"d","dn":-0.00144,"dc":"u"},{"i":94,"up":0.00063,"uc":"u","dn":-0.00207,"dc":"u"},{"i":95,"up":0.00126,"uc":"u","dn":-0.00239,"dc":"u"},{"i":96,"up":0.00182,"uc":"u","dn":-0.00245,"dc":"u"},{"i":97,"up":0.0023,"uc":"u","dn":-0.0023,"dc":"d"},{"i":98,"up":0.00251,"uc":"u","dn":-0.00218,"dc":"d"},{"i":99,"up":0.00251,"uc":"u","dn":-0.00218,"dc":"d"},
      {"i":100,"up":0.00251,"uc":"d","dn":-0.0022,"dc":"u"},{"i":101,"up":0.00255,"uc":"u","dn":-0.00224,"dc":"u"},{"i":102,"up":0.0026,"uc":"u","dn":-0.0022,"dc":"d"},{"i":103,"up":0.00268,"uc":"u","dn":-0.00193,"dc":"d"},{"i":104,"up":0.0027,"uc":"u","dn":-0.00184,"dc":"d"},{"i":105,"up":0.00264,"uc":"d","dn":-0.00188,"dc":"d"},{"i":106,"up":0.0026,"uc":"d","dn":-0.00167,"dc":"d"},{"i":107,"up":0.00257,"uc":"d","dn":-0.00161,"dc":"u"},{"i":108,"up":0.00262,"uc":"u","dn":-0.00151,"dc":"u"},{"i":109,"up":0.00251,"uc":"d","dn":-0.0014,"dc":"u"},
      {"i":110,"up":0.00243,"uc":"d","dn":-0.00119,"dc":"d"},{"i":111,"up":0.00222,"uc":"d","dn":-0.00082,"dc":"d"},{"i":112,"up":0.00195,"uc":"d","dn":-0.00059,"dc":"d"},{"i":113,"up":0.00167,"uc":"d","dn":-0.00042,"dc":"d"},{"i":114,"up":0.00149,"uc":"d","dn":-0.00042,"dc":"d"},{"i":115,"up":0.00144,"uc":"d","dn":-0.00031,"dc":"d"},{"i":116,"up":0.00132,"uc":"d","dn":-0.00017,"dc":"d"},{"i":117,"up":0.00105,"uc":"d","dn":-0.0001,"dc":"u"},{"i":118,"up":0.00084,"uc":"d","dn":-0.00001,"dc":"d"},{"i":119,"up":0.00073,"uc":"d","dn":-0.00008,"dc":"u"},
      {"i":120,"up":0.00069,"uc":"d","dn":-0.00046,"dc":"u"},{"i":121,"up":0.00073,"uc":"d","dn":-0.00105,"dc":"u"},{"i":122,"up":0.00098,"uc":"u","dn":-0.00123,"dc":"u"},{"i":123,"up":0.00136,"uc":"u","dn":-0.00109,"dc":"d"},{"i":124,"up":0.00163,"uc":"u","dn":-0.00036,"dc":"d"},{"i":125,"up":0.00163,"uc":"u","dn":-0.00021,"dc":"d"},{"i":126,"up":0.00121,"uc":"d","dn":-0.00017,"dc":"u"},{"i":127,"up":0.00069,"uc":"d","dn":-0.00052,"dc":"u"},{"i":128,"up":0.00027,"uc":"d","dn":-0.00071,"dc":"u"},{"i":129,"up":0.00017,"uc":"d","dn":-0.00073,"dc":"d"},
      {"i":130,"up":0.00013,"uc":"u","dn":-0.00073,"dc":"d"},{"i":131,"up":0.00019,"uc":"u","dn":-0.00063,"dc":"d"},{"i":132,"up":0.00031,"uc":"u","dn":-0.0005,"dc":"d"},{"i":133,"up":0.00033,"uc":"u","dn":-0.00029,"dc":"d"},{"i":134,"up":0.00027,"uc":"u","dn":-0.00021,"dc":"u"},{"i":135,"up":0.00017,"uc":"d","dn":-0.00019,"dc":"u"},{"i":136,"up":0.00008,"uc":"d","dn":-0.00004,"dc":"u"},{"i":137,"up":0.00006,"uc":"d","dn":-0.00088,"dc":"u"},{"i":138,"up":0.00006,"uc":"d","dn":-0.00142,"dc":"u"},{"i":139,"up":0.00038,"uc":"u","dn":-0.00193,"dc":"u"},
      {"i":140,"up":0.00094,"uc":"u","dn":-0.00217,"dc":"u"},{"i":141,"up":0.00149,"uc":"u","dn":null,"dc":"u"},{"i":142,"up":0.00182,"uc":"u","dn":null,"dc":"u"}
    ]
  },
  "vconcat": [
    {
      "width": 1225,
      "height": 471,
      "encoding": {
        "x": {"type": "quantitative", "scale": {"domain": [-0.04, 153.085], "nice": false, "zero": false},
          "axis": {"values": [0,4,8,12,16,20,24,28,32,36,40,44,48,52,56,60,64,68,72,76,80,84,88,92,96,100,104,108,112,116,120,124,128,132,136,140,144,148,152], "grid": true, "labels": false, "ticks": false, "minExtent": 0, "maxExtent": 0}},
        "y": {"type": "quantitative", "scale": {"domain": [1.035732, 1.053295], "nice": false, "zero": false},
          "axis": {"orient": "right", "values": [1.0369, 1.0381, 1.0393, 1.0405, 1.0417, 1.0429, 1.0441, 1.0453, 1.0465, 1.0477, 1.0489, 1.0501, 1.0513, 1.0525], "format": ".5f", "grid": true, "tickSize": 4, "labelPadding": 2, "labelOverlap": false}}
      },
      "layer": [
        {
          "data": {"values": [{"p": 1.04682}]},
          "mark": {"type": "rule", "color": "#c00000", "strokeWidth": 1},
          "encoding": {"y": {"field": "p"}}
        },
        {
          "data": {"name": "candles"},
          "mark": {"type": "rule", "color": "#000000", "strokeWidth": 1},
          "encoding": {"x": {"field": "i"}, "y": {"field": "l"}, "y2": {"field": "h"}}
        },
        {
          "data": {"name": "candles"},
          "mark": {"type": "bar", "size": 4, "stroke": "#000000", "strokeWidth": 1},
          "encoding": {
            "x": {"field": "i"},
            "y": {"field": "o"},
            "y2": {"field": "c"},
            "fill": {"condition": {"test": "datum.c >= datum.o", "value": "#ffffff"}, "value": "#000000"}
          }
        },
        {
          "data": {"name": "alligator"},
          "mark": {"type": "line", "strokeWidth": 2},
          "encoding": {
            "x": {"field": "i"},
            "y": {"field": "p"},
            "stroke": {"field": "s", "type": "nominal", "scale": {"domain": ["jaw", "teeth", "lips"], "range": ["#0050dc", "#ff0000", "#00e600"]}, "legend": null}
          }
        },
        {
          "data": {"name": "fractals"},
          "mark": {"type": "point", "filled": true, "size": 110, "stroke": "#8a8a96", "strokeWidth": 0.6, "clip": true},
          "encoding": {
            "x": {"field": "i"},
            "y": {"field": "p"},
            "shape": {"field": "t", "type": "nominal", "scale": {"domain": ["up", "down"], "range": ["M0,-1L0.9,0.9L0,0.35L-0.9,0.9Z", "M0,1L0.9,-0.9L0,-0.35L-0.9,-0.9Z"]}, "legend": null},
            "fill": {"value": "#b4b4bc"}
          }
        },
        {
          "data": {"values": [{"i": 139, "p": 1.04744}]},
          "mark": {"type": "point", "shape": "M0,-1L1,0L0.45,0L0.45,1L-0.45,1L-0.45,0L-1,0Z", "size": 300, "filled": true, "fill": "#f6ffe8", "stroke": "#5cd65c", "strokeWidth": 1.5, "opacity": 1},
          "encoding": {"x": {"field": "i"}, "y": {"field": "p"}}
        },
        {
          "data": {"values": [{"p": 1.04682}]},
          "mark": {"type": "rect", "color": "#c80000"},
          "encoding": {
            "x": {"datum": 153.45},
            "x2": {"datum": 158.35},
            "y": {"datum": 1.04700},
            "y2": {"datum": 1.04664}
          }
        },
        {
          "data": {"values": [{"p": 1.04682, "label": "1.04682"}]},
          "mark": {"type": "text", "align": "left", "baseline": "middle", "color": "#ffffff", "font": "Liberation Sans", "fontSize": 9.2},
          "encoding": {
            "x": {"datum": 153.7},
            "y": {"field": "p"},
            "text": {"field": "label"}
          }
        }
      ]
    },
    {
      "width": 1225,
      "height": 100,
      "layer": [
        {
          "data": {"name": "ao"},
          "mark": {"type": "bar", "size": 4},
          "encoding": {
            "x": {"field": "i", "type": "quantitative", "scale": {"domain": [-0.04, 153.085], "nice": false, "zero": false},
              "axis": {"values": [0,4,8,12,16,20,24,28,32,36,40,44,48,52,56,60,64,68,72,76,80,84,88,92,96,100,104,108,112,116,120,124,128,132,136,140,144,148,152], "grid": true, "labels": false, "ticks": false, "minExtent": 0, "maxExtent": 0}},
            "y": {"field": "v", "type": "quantitative", "scale": {"domain": [-0.006862, 0.004971], "nice": false, "zero": false},
              "axis": {"orient": "right", "values": [0.004971, 0, -0.006862], "labelExpr": "replace(format(datum.value, '.6f'), '\u2212', '-')", "grid": true, "gridOpacity": {"condition": {"test": "datum.value == 0", "value": 1}, "value": 0}, "tickSize": 4, "labelPadding": 2,
                "labelBaseline": {"condition": [{"test": "datum.value > 0", "value": "top"}, {"test": "datum.value < 0", "value": "bottom"}], "value": "middle"}}},
            "y2": {"datum": 0},
            "color": {"field": "d", "type": "nominal", "scale": {"domain": ["u", "d"], "range": ["#008000", "#ff0000"]}, "legend": null}
          }
        },
        {
          "data": {"values": [{"label": "AOcust 0.003945"}]},
          "mark": {"type": "text", "align": "left", "baseline": "top", "color": "#000000", "fontSize": 9.5},
          "encoding": {
            "x": {"datum": 0.33},
            "y": {"datum": 0.00462},
            "text": {"field": "label"}
          }
        }
      ]
    },
    {
      "width": 1225,
      "height": 100,
      "layer": [
        {
          "data": {"name": "ac"},
          "mark": {"type": "bar", "size": 4},
          "encoding": {
            "x": {"field": "i", "type": "quantitative", "scale": {"domain": [-0.04, 153.085], "nice": false, "zero": false},
              "axis": {"values": [0,4,8,12,16,20,24,28,32,36,40,44,48,52,56,60,64,68,72,76,80,84,88,92,96,100,104,108,112,116,120,124,128,132,136,140,144,148,152], "grid": true, "labels": false, "ticks": false, "minExtent": 0, "maxExtent": 0}},
            "y": {"field": "v", "type": "quantitative", "scale": {"domain": [-0.0026037, 0.0022667], "nice": false, "zero": false},
              "axis": {"orient": "right", "values": [0.0022667, 0, -0.0026037], "labelExpr": "replace(format(datum.value, '.7f'), '\u2212', '-')", "grid": true, "gridOpacity": {"condition": {"test": "datum.value == 0", "value": 1}, "value": 0}, "tickSize": 4, "labelPadding": 2,
                "labelBaseline": {"condition": [{"test": "datum.value > 0", "value": "top"}, {"test": "datum.value < 0", "value": "bottom"}], "value": "middle"}}},
            "y2": {"datum": 0},
            "color": {"field": "d", "type": "nominal", "scale": {"domain": ["u", "d"], "range": ["#008000", "#ff0000"]}, "legend": null}
          }
        },
        {
          "data": {"values": [{"label": "ACcust 0.0017600"}]},
          "mark": {"type": "text", "align": "left", "baseline": "top", "color": "#000000", "fontSize": 9.5},
          "encoding": {
            "x": {"datum": 0.33},
            "y": {"datum": 0.0021},
            "text": {"field": "label"}
          }
        }
      ]
    },
    {
      "width": 1225,
      "height": 100,
      "layer": [
        {
          "data": {"name": "gator"},
          "mark": {"type": "bar", "size": 4},
          "encoding": {
            "x": {"field": "i", "type": "quantitative", "scale": {"domain": [-0.04, 153.085], "nice": false, "zero": false},
              "axis": {"values": [0,4,8,12,16,20,24,28,32,36,40,44,48,52,56,60,64,68,72,76,80,84,88,92,96,100,104,108,112,116,120,124,128,132,136,140,144,148,152], "grid": true, "tickSize": 4, "labelAlign": "left", "labelPadding": 1, "labelOffset": 1, "labelFontSize": 9.5,
                "tickOpacity": {"condition": {"test": "datum.value % 8 == 0 && datum.value <= 136", "value": 1}, "value": 0},
                "labelExpr": "datum.value % 8 == 0 && datum.value <= 136 ? ['21 Feb 2025','24 Feb 06:00','24 Feb 14:00','24 Feb 22:00','25 Feb 06:00','25 Feb 14:00','25 Feb 22:00','26 Feb 06:00','26 Feb 14:00','26 Feb 22:00','27 Feb 06:00','27 Feb 14:00','27 Feb 22:00','28 Feb 06:00','28 Feb 14:00','28 Feb 22:00','3 Mar 06:00','3 Mar 14:00'][datum.value / 8] : ''"}},
            "y": {"field": "up", "type": "quantitative", "scale": {"domain": [-0.003022, 0.003256], "nice": false, "zero": false},
              "axis": {"orient": "right", "values": [0.003256, 0, -0.003022], "labelExpr": "replace(format(datum.value, '.6f'), '\u2212', '-')", "grid": true, "gridOpacity": {"condition": {"test": "datum.value == 0", "value": 1}, "value": 0}, "tickSize": 4, "labelPadding": 2,
                "labelBaseline": {"condition": [{"test": "datum.value > 0", "value": "top"}, {"test": "datum.value < 0", "value": "bottom"}], "value": "middle"}}},
            "y2": {"datum": 0},
            "color": {"field": "uc", "type": "nominal", "scale": {"domain": ["u", "d"], "range": ["#008000", "#ff0000"]}, "legend": null}
          }
        },
        {
          "data": {"name": "gator"},
          "mark": {"type": "bar", "size": 4},
          "encoding": {
            "x": {"field": "i", "type": "quantitative"},
            "y": {"field": "dn", "type": "quantitative"},
            "y2": {"datum": 0},
            "color": {"field": "dc", "type": "nominal"}
          }
        },
        {
          "data": {"values": [{"label": "GatorCust 0.001821 -0.002174"}]},
          "mark": {"type": "text", "align": "left", "baseline": "top", "color": "#000000", "fontSize": 9.5},
          "encoding": {
            "x": {"datum": 0.33},
            "y": {"datum": 0.00304},
            "text": {"field": "label"}
          }
        }
      ]
    }
  ]
}
